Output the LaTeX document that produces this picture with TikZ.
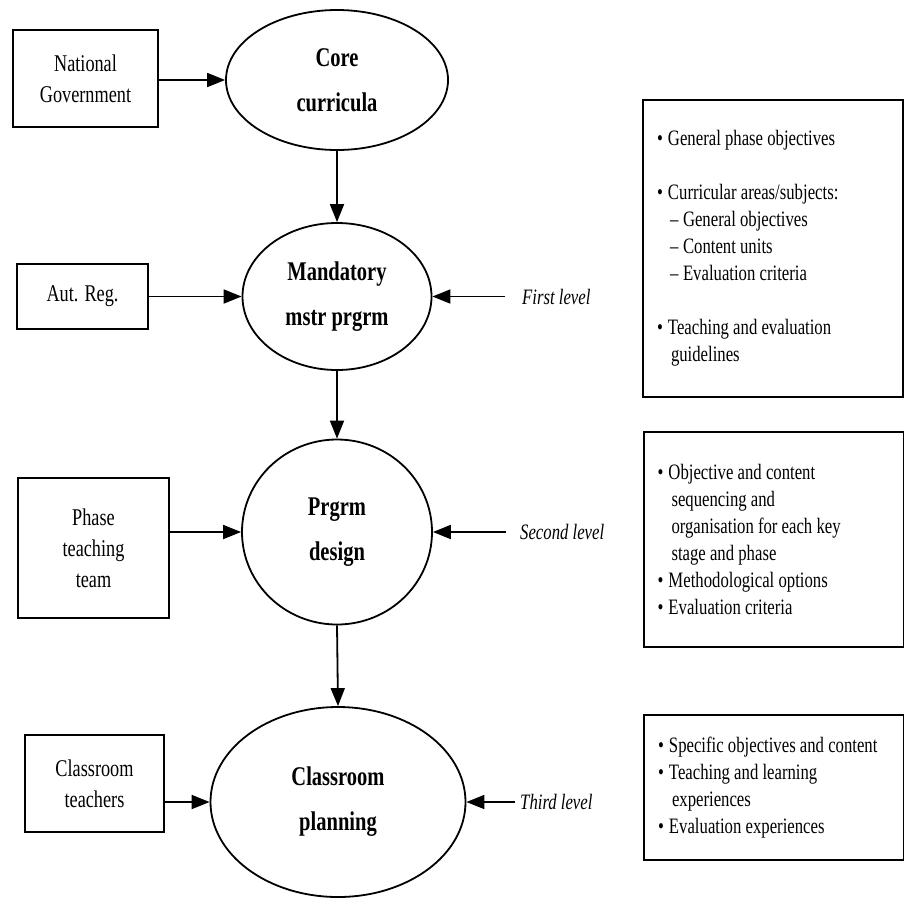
\documentclass[tikz,border=0pt]{standalone}
\usepackage{fontspec}
\setmainfont{Liberation Serif}[FakeStretch=0.76]
\usetikzlibrary{shapes.geometric,arrows.meta}
\tikzset{
  arr/.style={-{Triangle[length=18pt,width=14pt]}, line width=1.8pt},
  srcbox/.style={draw, line width=2pt, rectangle, inner sep=0pt, align=center,
    font=\fontsize{24}{31}\selectfont},
  stage/.style={draw, line width=1.8pt, ellipse, inner sep=0pt, align=center,
    font=\fontsize{27}{45}\selectfont\bfseries},
  lvl/.style={anchor=west, inner sep=0pt, font=\fontsize{22}{27}\selectfont\itshape},
  infobox/.style={draw, line width=2pt, rectangle, inner xsep=14pt, inner ysep=0pt,
    minimum width=260pt, text width=232pt, align=left,
    font=\fontsize{22}{27}\selectfont}
}
\newcommand{\bl}{\makebox[11pt][l]{•}}
\newcommand{\ind}{\hspace*{14pt}}
\newcommand{\dl}{\hspace*{13pt}\makebox[13pt][l]{–}}
\newcommand{\nsp}{\spaceskip=0pt\xspaceskip=0pt\relax}
\begin{document}
\begin{tikzpicture}[x=1pt,y=1pt]
\useasboundingbox (0,0) rectangle (904,-898);

% sources
\node[srcbox, minimum width=145pt, minimum height=97pt] (ng) at (85.5,-78.5) {National\\Government};
\node[srcbox, minimum width=131pt, minimum height=65pt] (ar) at (82.5,-296.5) {Aut. Reg.};
\node[srcbox, minimum width=151pt, minimum height=140pt] (ptt) at (93.5,-548) {Phase\\teaching\\team};
\node[srcbox, minimum width=139pt, minimum height=97pt] (ct) at (94.5,-783.5) {Classroom\\teachers};

% stages
\node[stage, minimum width=222pt, minimum height=140pt] (core) at (337,-80) {Core\\curricula};
\node[stage, minimum width=189pt, minimum height=147pt] (mand) at (337,-296.5) {Mandatory\\mstr prgrm};
\node[stage, minimum width=190pt, minimum height=185pt] (prg) at (337,-532) {Prgrm\\design};
\node[stage, minimum width=255pt, minimum height=190pt] (cp) at (338,-802) {Classroom\\planning};

% inputs
\draw[arr] (ng.east|-core.west) -- (core.west);
\draw[arr] (ar.east|-mand.west) -- (mand.west);
\draw[arr] (ptt.east|-prg.west) -- (prg.west);
\draw[arr] (ct.east|-cp.west) -- (cp.west);

% flow
\draw[arr] (core.south) -- (mand.north);
\draw[arr] (mand.south) -- (prg.north);
\draw[arr] (prg.south) -- (cp.north);

% levels
\node[lvl] (l1) at (522,-296.5) {First level};
\node[lvl] (l2) at (520,-532) {Second level};
\node[lvl] (l3) at (520,-802) {Third level};
\coordinate (c1) at (505,-296.5);
\coordinate (c2) at (506,-532);
\coordinate (c3) at (515,-802);
\draw[arr] (c1) -- (mand.east);
\draw[arr] (c2) -- (prg.east);
\draw[arr] (c3) -- (cp.east);

% info boxes
\node[infobox, minimum height=297pt] (b1) at (773,-248.5) {\nsp
\bl General phase objectives\\[27pt]
\bl Curricular areas/subjects:\\
\dl General objectives\\
\dl Content units\\
\dl Evaluation criteria\\[27pt]
\bl Teaching and evaluation\\
\ind guidelines};
\node[infobox, minimum height=215pt] (b2) at (773.5,-539.5) {\nsp
\bl Objective and content\\
\ind sequencing and\\
\ind organisation for each key\\
\ind stage and phase\\
\bl Methodological options\\
\bl Evaluation criteria};
\node[infobox, minimum height=145pt] (b3) at (774,-787.5) {\nsp
\bl Specific objectives and content\\
\bl Teaching and learning\\
\ind experiences\\
\bl Evaluation experiences};
\end{tikzpicture}
\end{document}
